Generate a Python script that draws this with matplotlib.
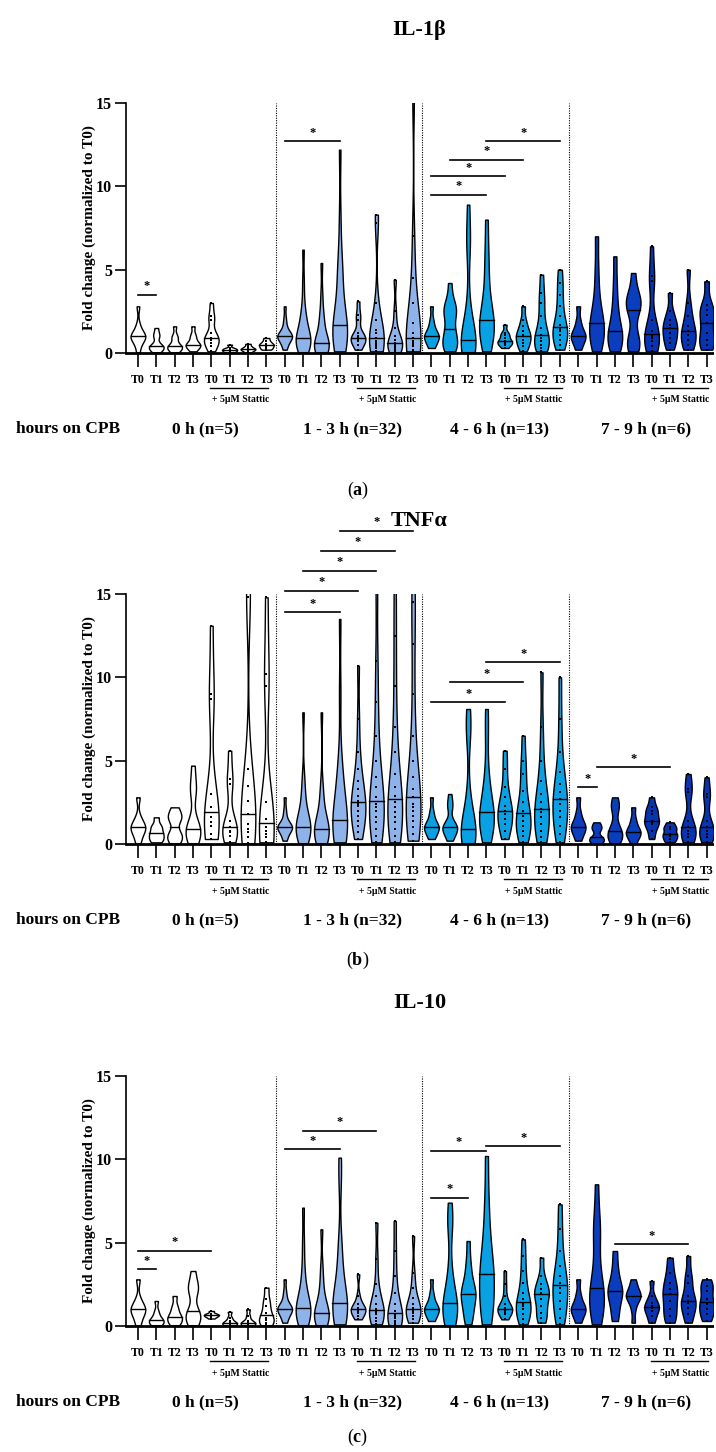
import numpy as np
import matplotlib
matplotlib.use('Agg')
import matplotlib.pyplot as plt

plt.rcParams['font.family'] = ['Liberation Serif', 'DejaVu Serif']
plt.rcParams['mathtext.fontset'] = 'custom'
plt.rcParams['mathtext.rm'] = 'Liberation Serif'
plt.rcParams['mathtext.bf'] = 'Liberation Serif:bold'

# x tick labels and groups
tick_labels = ['T0', 'T1', 'T2', 'T3'] * 8
group_labels = ['0 h (n=5)', '1 - 3 h (n=32)', '4 - 6 h (n=13)', '7 - 9 h (n=6)']
group_colors = ['#ffffff', '#8db3ea', '#0aa0e4', '#0a3ebf']
stattic_colors = ['#ffffff', '#8db3ea', '#0aa0e4', '#0634b2']

# IL-1beta, estimated values per violin (4 groups x [T0-T3, T0-T3 + Stattic])
il1b_vals = [
    # 0 h
    [0.05, 0.5, 0.8, 0.9, 1.0, 1.0, 1.1, 1.3, 1.7, 2.8], [0.05, 0.2, 0.3, 0.35, 0.4, 0.5, 1.0, 1.1, 1.5],
    [0.05, 0.2, 0.3, 0.35, 0.4, 0.5, 0.9, 1.0, 1.6], [0.1, 0.3, 0.4, 0.5, 0.5, 0.6, 0.9, 1.1, 1.6],
    [0.1, 0.4, 0.6, 0.8, 0.85, 0.9, 1.2, 2.0, 2.2, 3.0], [0.05, 0.1, 0.15, 0.2, 0.25, 0.3, 0.5],
    [0.05, 0.15, 0.2, 0.25, 0.3, 0.4, 0.55], [0.2, 0.3, 0.4, 0.5, 0.55, 0.7, 0.9],
    # 1 - 3 h
    [0.2, 0.4, 0.6, 0.8, 0.9, 0.95, 1.0, 1.0, 1.05, 1.1, 1.2, 1.4, 1.7, 2.1, 2.8],
    [0.05, 0.2, 0.4, 0.5, 0.6, 0.7, 0.8, 0.85, 0.9, 1.0, 1.2, 1.8, 2.0, 2.2, 3.0, 4.3, 6.2],
    [0.05, 0.1, 0.2, 0.3, 0.4, 0.5, 0.5, 0.6, 0.8, 1.0, 1.6, 2.0, 2.4, 3.5, 5.4],
    [0.1, 0.3, 0.5, 0.8, 1.0, 1.2, 1.25, 1.4, 1.7, 2.0, 2.5, 3.0, 4.6, 5.0, 5.3, 8.0, 12.2],
    [0.2, 0.5, 0.7, 0.8, 0.85, 0.9, 1.0, 1.2, 2.0, 2.3, 3.1],
    [0.1, 0.3, 0.4, 0.5, 0.6, 0.7, 0.9, 1.2, 1.4, 2.0, 3.0, 7.8, 8.3],
    [0.05, 0.2, 0.3, 0.4, 0.5, 0.6, 0.8, 1.0, 1.5, 2.5, 4.4],
    [0.1, 0.2, 0.4, 0.5, 0.6, 0.7, 0.9, 1.2, 1.8, 3.0, 4.5, 7.0, 15.5],
    # 4 - 6 h
    [0.3, 0.5, 0.7, 0.9, 1.0, 1.0, 1.1, 1.3, 1.6, 2.0, 2.8],
    [0.1, 0.3, 0.5, 0.6, 0.9, 1.3, 1.45, 2.2, 2.4, 2.6, 2.8, 3.2, 4.2],
    [0.05, 0.2, 0.3, 0.5, 0.6, 0.65, 0.8, 1.0, 1.5, 3.0, 6.5, 6.8, 8.9],
    [0.1, 0.5, 0.9, 1.3, 1.6, 1.8, 2.0, 2.4, 3.0, 3.8, 5.0, 6.2, 8.0],
    [0.3, 0.5, 0.6, 0.65, 0.7, 0.9, 1.1, 1.2, 1.7],
    [0.1, 0.4, 0.6, 0.8, 1.0, 1.1, 1.3, 1.6, 2.0, 2.8],
    [0.1, 0.3, 0.5, 0.7, 0.9, 1.1, 1.5, 2.2, 3.0, 3.6, 4.7],
    [0.2, 0.5, 0.8, 1.1, 1.3, 1.45, 1.7, 2.2, 2.8, 3.5, 4.2, 5.0],
    # 7 - 9 h
    [0.2, 0.6, 0.9, 1.0, 1.1, 1.4, 1.9, 2.8], [0.1, 0.6, 1.0, 1.4, 1.6, 2.0, 2.5, 3.5, 5.0, 7.0],
    [0.1, 0.4, 0.8, 1.0, 1.1, 1.5, 2.2, 3.0, 4.2, 5.8], [0.1, 0.4, 0.7, 1.0, 2.4, 2.8, 3.0, 3.2, 3.6, 4.8],
    [0.1, 0.4, 0.7, 0.9, 1.0, 1.3, 2.0, 4.3, 4.6, 6.4], [0.2, 0.6, 0.9, 1.2, 1.5, 1.7, 2.0, 2.5, 3.6],
    [0.2, 0.5, 0.8, 1.1, 1.3, 1.6, 2.2, 3.0, 5.0], [0.2, 0.5, 0.8, 1.2, 1.8, 2.3, 2.6, 2.9, 4.3],
]

# TNFalpha
tnfa_vals = [
    # 0 h
    [0.05, 0.5, 0.8, 1.0, 1.0, 1.2, 1.6, 2.8], [0.1, 0.25, 0.4, 0.6, 0.7, 1.0, 1.1, 1.6],
    [0.05, 0.3, 0.5, 0.7, 1.4, 1.6, 1.8, 2.2], [0.05, 0.4, 0.7, 0.8, 0.9, 1.3, 3.2, 3.4, 4.7],
    [0.3, 0.6, 1.1, 1.3, 1.6, 2.2, 3.0, 8.7, 9.0, 13.1], [0.1, 0.5, 0.7, 0.8, 1.0, 1.4, 3.6, 3.9, 5.6],
    [0.05, 0.4, 0.7, 0.9, 1.2, 1.8, 2.6, 3.5, 4.5, 14.8, 15.5], [0.1, 0.4, 0.6, 0.8, 1.0, 1.5, 2.5, 9.5, 10.2, 14.8],
    # 1 - 3 h
    [0.2, 0.4, 0.6, 0.8, 0.9, 0.95, 1.0, 1.0, 1.05, 1.1, 1.2, 1.4, 1.7, 2.1, 2.8],
    [0.05, 0.3, 0.5, 0.7, 0.8, 0.9, 1.0, 1.0, 1.1, 1.3, 1.5, 1.9, 2.5, 3.2, 4.0, 7.9],
    [0.05, 0.2, 0.4, 0.5, 0.6, 0.7, 0.8, 0.9, 1.0, 1.2, 1.5, 2.0, 2.8, 3.5, 7.9],
    [0.1, 0.3, 0.5, 0.7, 0.9, 1.1, 1.2, 1.3, 1.6, 2.0, 2.6, 3.5, 4.2, 4.8, 9.0, 13.5],
    [0.3, 0.7, 1.1, 1.4, 1.7, 2.0, 2.3, 2.4, 2.6, 2.9, 3.3, 3.8, 4.5, 5.5, 7.5, 10.7],
    [0.1, 0.5, 0.9, 1.3, 1.6, 2.0, 2.2, 2.4, 2.8, 3.4, 4.0, 5.0, 6.5, 8.5, 11.0, 15.5],
    [0.1, 0.5, 0.9, 1.3, 1.6, 1.9, 2.2, 2.5, 2.9, 3.4, 4.2, 5.5, 7.0, 9.5, 12.5, 15.5],
    [0.2, 0.6, 1.0, 1.4, 1.7, 2.0, 2.2, 2.4, 2.8, 3.3, 4.0, 5.0, 6.5, 9.0, 12.0, 14.5, 15.5],
    # 4 - 6 h
    [0.3, 0.5, 0.7, 0.9, 1.0, 1.0, 1.1, 1.3, 1.6, 2.0, 2.8],
    [0.2, 0.5, 0.7, 0.9, 1.0, 1.0, 1.1, 1.3, 2.2, 2.4, 3.0],
    [0.05, 0.2, 0.3, 0.5, 0.6, 0.7, 0.9, 1.2, 1.8, 3.0, 6.7, 7.0, 8.1],
    [0.1, 0.5, 0.9, 1.2, 1.5, 1.7, 1.9, 2.3, 2.8, 3.4, 4.5, 6.5, 8.1],
    [0.3, 0.8, 1.2, 1.5, 1.8, 2.0, 2.3, 2.8, 3.4, 4.5, 5.6],
    [0.1, 0.5, 0.8, 1.1, 1.4, 1.7, 2.0, 2.5, 3.2, 4.2, 5.0, 6.5],
    [0.1, 0.4, 0.8, 1.2, 1.6, 1.9, 2.1, 2.5, 3.0, 3.8, 5.0, 7.0, 10.3],
    [0.1, 0.6, 1.1, 1.6, 2.0, 2.4, 2.7, 3.1, 3.6, 4.3, 5.5, 7.5, 10.0],
    # 7 - 9 h
    [0.2, 0.6, 0.9, 1.0, 1.1, 1.4, 1.9, 2.8], [0.05, 0.2, 0.3, 0.4, 0.9, 1.0, 1.3],
    [0.05, 0.3, 0.5, 0.6, 0.8, 1.2, 2.1, 2.3, 2.8], [0.05, 0.4, 0.6, 0.7, 0.8, 1.1, 1.5, 2.2],
    [0.3, 0.8, 1.2, 1.3, 1.4, 1.8, 2.0, 2.2, 2.8], [0.1, 0.3, 0.5, 0.6, 0.9, 1.0, 1.3],
    [0.1, 0.4, 0.6, 0.8, 1.0, 1.4, 3.1, 3.3, 4.2], [0.1, 0.4, 0.6, 0.8, 1.0, 1.4, 2.8, 3.0, 4.0],
]

# IL-10
il10_vals = [
    # 0 h
    [0.05, 0.5, 0.8, 1.0, 1.0, 1.2, 1.6, 2.8], [0.05, 0.15, 0.25, 0.3, 0.4, 0.6, 0.9, 1.5],
    [0.05, 0.2, 0.4, 0.5, 0.6, 0.9, 1.2, 1.8], [0.05, 0.3, 0.6, 0.7, 0.9, 2.0, 2.3, 2.5, 3.3],
    [0.45, 0.55, 0.6, 0.65, 0.7, 0.75, 0.9], [0.05, 0.1, 0.15, 0.2, 0.3, 0.5, 0.85],
    [0.05, 0.1, 0.15, 0.2, 0.3, 0.6, 1.0], [0.05, 0.2, 0.35, 0.5, 0.8, 1.2, 1.6, 2.3],
    # 1 - 3 h
    [0.2, 0.4, 0.6, 0.8, 0.9, 1.0, 1.0, 1.05, 1.1, 1.2, 1.4, 1.7, 2.1, 2.8],
    [0.05, 0.3, 0.5, 0.7, 0.8, 0.9, 1.0, 1.1, 1.3, 1.6, 2.0, 2.6, 3.5, 5.0, 7.1],
    [0.05, 0.2, 0.4, 0.5, 0.6, 0.7, 0.8, 1.0, 1.3, 1.8, 2.5, 3.5, 5.8],
    [0.1, 0.3, 0.6, 0.8, 1.0, 1.2, 1.25, 1.4, 1.7, 2.2, 3.0, 4.4, 4.8, 8.8, 10.1],
    [0.4, 0.6, 0.8, 0.9, 1.0, 1.05, 1.1, 1.3, 1.8, 3.1],
    [0.1, 0.3, 0.5, 0.7, 0.8, 0.9, 1.0, 1.3, 1.8, 2.5, 4.0, 6.2],
    [0.05, 0.2, 0.3, 0.5, 0.6, 0.7, 0.9, 1.3, 2.0, 3.0, 4.5, 6.3],
    [0.2, 0.4, 0.6, 0.8, 0.9, 1.0, 1.1, 1.3, 1.7, 2.3, 3.2, 5.4],
    # 4 - 6 h
    [0.3, 0.5, 0.7, 0.9, 1.0, 1.0, 1.1, 1.3, 1.6, 2.0, 2.8],
    [0.05, 0.3, 0.6, 0.9, 1.1, 1.2, 1.4, 1.8, 2.5, 3.5, 6.0, 6.3, 7.4],
    [0.1, 0.5, 0.9, 1.3, 1.7, 1.9, 2.0, 2.2, 2.6, 3.2, 3.9, 5.1],
    [0.1, 0.5, 1.0, 1.6, 2.2, 2.8, 3.1, 3.5, 4.2, 5.0, 6.2, 7.8, 10.2],
    [0.4, 0.7, 0.85, 0.95, 1.0, 1.05, 1.1, 1.3, 1.8, 2.5, 3.3],
    [0.1, 0.4, 0.7, 1.0, 1.2, 1.3, 1.6, 2.0, 2.6, 3.3, 4.2, 5.2],
    [0.2, 0.5, 0.8, 1.2, 1.6, 1.9, 2.0, 2.2, 2.5, 3.0, 4.1],
    [0.1, 0.5, 1.0, 1.5, 2.0, 2.3, 2.6, 3.0, 3.6, 4.5, 5.8, 7.3],
    # 7 - 9 h
    [0.2, 0.6, 0.9, 1.0, 1.1, 1.4, 1.9, 2.8], [0.1, 0.6, 1.2, 1.7, 1.9, 2.3, 3.0, 4.5, 5.8, 6.3, 8.5],
    [0.3, 0.9, 1.5, 1.9, 2.1, 2.3, 2.8, 3.5, 4.5], [0.2, 1.0, 1.5, 1.7, 1.8, 1.9, 2.1, 2.4, 2.8],
    [0.2, 0.6, 0.9, 1.1, 1.2, 1.4, 1.8, 2.7], [0.2, 0.6, 1.0, 1.5, 1.9, 2.2, 2.6, 3.2, 4.1],
    [0.2, 0.7, 1.1, 1.4, 1.5, 1.8, 2.6, 3.0, 4.2], [0.3, 0.7, 1.0, 1.3, 1.6, 2.1, 2.4, 2.8],
]

# significance bars: (from violin, to violin, height)
il1b_sig = [(0, 1, 3.5), (8, 11, 12.7), (16, 19, 9.5), (16, 20, 10.6), (17, 21, 11.6), (19, 23, 12.7)]
tnfa_sig = [(8, 11, 13.9), (8, 12, 15.2), (9, 13, 16.4), (10, 14, 17.6), (11, 15, 18.8),
            (16, 20, 8.5), (17, 21, 9.7), (19, 23, 10.9), (24, 25, 3.4), (25, 29, 4.6)]
il10_sig = [(0, 1, 3.4), (0, 4, 4.5), (8, 11, 10.6), (9, 13, 11.7), (16, 18, 7.7), (16, 19, 10.5),
            (19, 23, 10.8), (26, 30, 4.9)]

panels = [
    ('IL-1β', il1b_vals, il1b_sig, 'a', 353, 490),
    ('TNFα', tnfa_vals, tnfa_sig, 'b', 844, 960),
    ('IL-10', il10_vals, il10_sig, 'c', 1326, 1437),
]

W, H = 716, 1452
fig = plt.figure(figsize=(W / 100, H / 100), dpi=100)

px = 250 / 15  # pixels per data unit on y
for title, vals, sig, letter, y0, letter_y in panels:
    ax = fig.add_axes([126 / W, (H - y0) / H, 587 / W, 250 / H])
    positions = np.arange(32)
    parts = ax.violinplot(vals, positions=positions, widths=0.8, showextrema=False, bw_method=0.42)
    for i, body in enumerate(parts['bodies']):
        g, sub = divmod(i, 8)
        stattic = sub >= 4
        body.set_facecolor(stattic_colors[g] if stattic else group_colors[g])
        body.set_edgecolor('black')
        body.set_linewidth(1.0)
        body.set_alpha(1)
        # median line across the violin
        med = np.median(vals[i])
        verts = body.get_paths()[0].vertices
        right = verts[verts[:, 0] > positions[i]]
        order = np.argsort(right[:, 1])
        half = np.interp(med, right[order, 1], right[order, 0]) - positions[i]
        ax.plot([positions[i] - half, positions[i] + half], [med, med], color='black', lw=1.0)
        if stattic:
            ax.plot(np.full(len(vals[i]), positions[i]), vals[i], 's', color='black', ms=2.0, mew=0)

    # group separators
    for xs in [7.5, 15.5, 23.5]:
        ax.plot([xs, xs], [0, 15], color='black', lw=0.8, ls=(0, (1, 1.2)))

    ax.set_xlim(-0.65, 31.35)
    ax.set_ylim(0, 15)
    ax.set_yticks([0, 5, 10, 15])
    ax.set_yticklabels(['0', '5', '10', '15'], fontsize=11.5, fontweight='bold')
    ax.set_xticks(positions)
    ax.set_xticklabels(tick_labels, fontsize=8.5, fontweight='bold')
    ax.tick_params(axis='x', length=10, width=1.2, pad=5)
    ax.tick_params(axis='y', length=8, width=1.2, pad=2)
    for s in ['top', 'right']:
        ax.spines[s].set_visible(False)
    ax.spines['left'].set_linewidth(1.2)
    ax.spines['bottom'].set_linewidth(2.0)
    ax.spines['bottom'].set_linestyle((0, (1, 1)))
    ax.set_ylabel('Fold change (normalized to T0)', fontsize=11, fontweight='bold', labelpad=0)

    # significance bars
    for i, j, h in sig:
        ax.plot([i, j], [h, h], color='black', lw=1.2, clip_on=False)
        ax.text((i + j) / 2, h + 0.15, '*', ha='center', va='bottom', fontsize=9, fontweight='bold')

    # "+ 5uM Stattic" brackets and group labels
    for g in range(4):
        start = g * 8
        ax.plot([start + 3.95, start + 7.1], [-35 / px, -35 / px], color='black', lw=1.0, clip_on=False)
        ax.text(start + 5.6, -47 / px, '+ 5μM Stattic', ha='center', va='center', fontsize=7, fontweight='bold')
        ax.text(start + 3.7, -76 / px, group_labels[g], ha='center', va='center', fontsize=12.5, fontweight='bold')
    ax.text(-6.65, -76 / px, 'hours on CPB', ha='left', va='center', fontsize=12.5, fontweight='bold')

    ax.text(0.5, 1 + 73 / 250, title, transform=ax.transAxes, ha='center', va='center',
            fontsize=16, fontweight='bold')
    fig.text(358 / W, 1 - letter_y / H, r'($\mathbf{' + letter + '}$)', ha='center', va='center', fontsize=13)

fig.savefig('out.png', dpi=100)
